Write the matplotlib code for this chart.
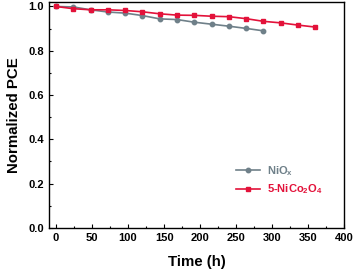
import numpy as np
import matplotlib
matplotlib.use('Agg')
import matplotlib.pyplot as plt
from matplotlib.ticker import MultipleLocator

plt.rcParams['font.family'] = ['Liberation Sans', 'DejaVu Sans']
plt.rcParams['font.weight'] = 'bold'
plt.rcParams['mathtext.fontset'] = 'custom'
plt.rcParams['mathtext.bf'] = 'Liberation Sans:bold'

## ==========Data
t_nio = [0, 24, 48, 72, 96, 120, 144, 168, 192, 216, 240, 264, 288]
pce_nio = [1.0, 0.998, 0.985, 0.975, 0.970, 0.959, 0.944, 0.941,
           0.929, 0.920, 0.911, 0.901, 0.890]

t_nco = [0, 24, 48, 72, 96, 120, 144, 168, 192, 216, 240, 264, 288,
         312, 336, 360]
pce_nco = [1.0, 0.990, 0.985, 0.985, 0.982, 0.976, 0.967, 0.961, 0.960,
           0.956, 0.954, 0.945, 0.933, 0.926, 0.916, 0.907]

grey = '#6f8089'
red = '#e3123a'

fig = plt.figure(figsize=(3.54, 2.70), dpi=100)
ax = fig.add_axes([0.138, 0.156, 0.834, 0.838])

ax.plot(t_nio, pce_nio, '-o', color=grey, ms=3.2, lw=1.2, label='NiO$_\\mathbf{x}$')
ax.plot(t_nco, pce_nco, '-s', color=red, ms=3.2, lw=1.2,
        label='5-NiCo$_\\mathbf{2}$O$_\\mathbf{4}$')

ax.set_xlim(-10, 400)
ax.set_ylim(0, 1.022)
ax.xaxis.set_major_locator(MultipleLocator(50))
ax.xaxis.set_minor_locator(MultipleLocator(25))
ax.yaxis.set_major_locator(MultipleLocator(0.2))
ax.yaxis.set_minor_locator(MultipleLocator(0.1))
ax.tick_params(which='both', direction='in', labelsize=8, width=0.8)
ax.tick_params(which='major', length=3)
ax.tick_params(which='minor', length=1.5)
for s in ax.spines.values():
    s.set_linewidth(1.0)

ax.set_xlabel('Time (h)', fontsize=10.8, fontweight='bold', labelpad=9)
ax.set_ylabel('Normalized PCE', fontsize=10.8, fontweight='bold', labelpad=5)

leg = ax.legend(loc='center left', bbox_to_anchor=(0.6, 0.21), frameon=False,
                fontsize=8, handlelength=2.2, labelspacing=0.4, handletextpad=0.6)
for txt, c in zip(leg.get_texts(), [grey, red]):
    txt.set_color(c)

fig.savefig('out.png', dpi=100)
